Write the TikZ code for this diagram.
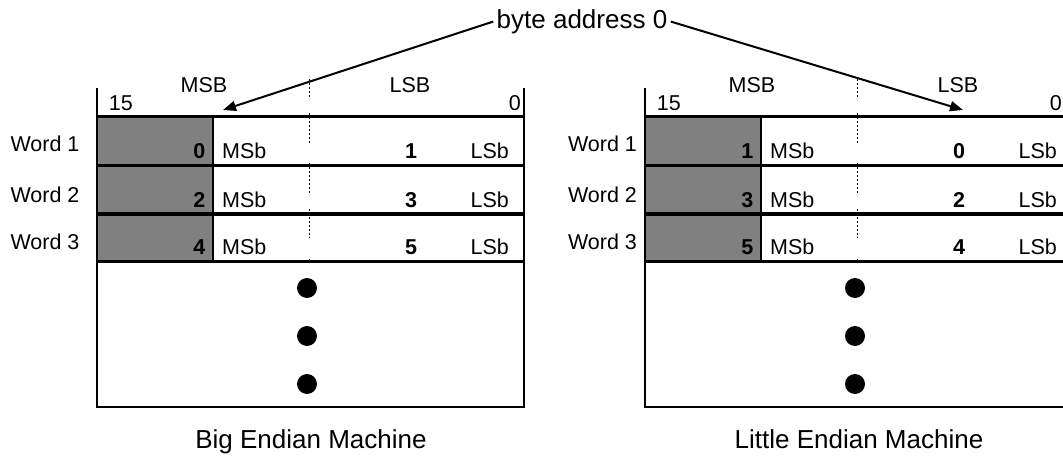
\documentclass[tikz,border=0pt]{standalone}
\usepackage{fontspec}
\setmainfont{Liberation Sans}
\usetikzlibrary{positioning, arrows.meta}

\begin{document}
\begin{tikzpicture}[
        x=1pt, y=-1pt,
        >={Triangle[length=13pt, width=10pt]},
        txt/.style={inner sep=0pt, font=\fontsize{21.5}{25}\selectfont},
        num/.style={inner sep=0pt, font=\fontsize{21.5}{25}\selectfont\bfseries},
        caption/.style={font=\fontsize{26}{30}\selectfont},
        frame/.style={line width=2.2pt},
        rowline/.style={line width=3.3pt},
        sep/.style={dash pattern=on 2pt off 2pt, line width=1pt},
        blob/.style={circle, fill=black, minimum size=20pt, inner sep=0pt},
        arr/.style={->, line width=2pt},
    ]

        \useasboundingbox (0,0) rectangle (1063,457);
        \clip (0,0) rectangle (1063,457);

        % Draw both machines, the second one shifted to the right
        \foreach \m/\ox/\sw/\tx/\wx/\zx/\title in {big/0/0/223/45/521/Big Endian Machine,
                                                  little/548/1/415/54.5/514/Little Endian Machine} {
            \begin{scope}[xshift=\ox pt]
                % shaded upper bytes
                \fill[black!50] (96.7,116.7) rectangle (212.7,261.7);
                \draw[frame] (212.7,116.7) -- (212.7,261.7);

                % outer frame and header line
                \draw[frame] (96.7,88) -- (96.7,406.7) -- (524,406.7) -- (524,88);
                \draw[line width=2.5pt] (96.7,116.7) -- (524,116.7);

                % byte boundary
                \foreach \ya/\yb in {79/97, 113/143, 163/193, 209/238, 259/262}
                    \draw[sep] (309,\ya) -- (309,\yb);

                % header labels
                \node[txt, anchor=base] (\m-msb) at (204,92.7) {MSB};
                \node[txt, anchor=base] (\m-lsb) at (410,92.7) {LSB};
                \node[txt, anchor=base west] (\m-hi) at (108.7,110.7) {15};
                \node[txt, anchor=base east] (\m-lo) at (\zx,110.7) {0};
                \coordinate (\m-tip) at (\tx,110);

                % the three words
                \foreach \r/\y/\wy in {1/165.7/152, 2/214/203, 3/261.7/250} {
                    \pgfmathtruncatemacro\hi{2*\r-2+\sw}
                    \pgfmathtruncatemacro\lo{2*\r-1-\sw}
                    \draw[rowline] (96.7,\y) -- (524,\y);
                    \node[txt, anchor=base] (\m-word-\r) at (\wx,\wy) {Word \r};
                    \node[num, anchor=base east] (\m-a-\r) at (205.5,\y-6.8) {\hi};
                    \node[txt, anchor=base west] (\m-msb-\r) at (222,\y-6.8) {MSb};
                    \node[num, anchor=base] (\m-b-\r) at (411,\y-6.8) {\lo};
                    \node[txt, anchor=base east] (\m-lsb-\r) at (509,\y-6.8) {LSb};
                }

                % more words follow
                \foreach \d/\y in {1/288, 2/336, 3/384}
                    \node[blob] (\m-dot-\d) at (307,\y) {};

                \node[caption, anchor=base] (\m-title) at (311,448) {\title};
            \end{scope}
        }

        % Point from the address to its byte in each machine
        \node[caption, anchor=base] (addr) at (582,28.3) {byte address 0};
        \draw[arr] (addr.west) -- (big-tip);
        \draw[arr] (addr.east) -- (little-tip);
\end{tikzpicture}
\end{document}
